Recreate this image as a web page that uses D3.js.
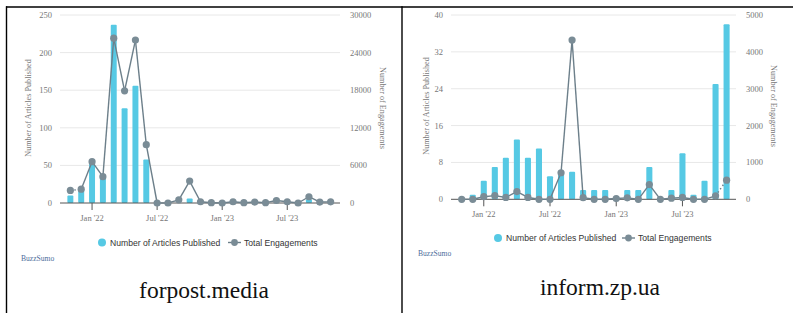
<!DOCTYPE html>
<html>
<head>
<meta charset="utf-8">
<script src="https://cdn.jsdelivr.net/npm/d3@7"></script>
<style>
    body { margin: 0; background: #fff; }
    svg { display: block; }
    .tick-label { font-family: "Liberation Serif", "Times New Roman", serif; font-size: 8.5px; fill: #777; }
    .axis-title { font-family: "Liberation Serif", "Times New Roman", serif; font-size: 8.2px; fill: #777; }
    .legend-text { font-family: "Liberation Sans", Arial, sans-serif; font-size: 8.6px; fill: #333; }
    .brand { font-family: "Liberation Serif", "Times New Roman", serif; font-size: 7.6px; fill: #4d6e9c; }
    .site { font-family: "Liberation Serif", "Times New Roman", serif; font-size: 23.5px; fill: #111; }
</style>
</head>
<body>
<svg id="graph" width="793" height="313"></svg>
<script>
// months Nov 2021 .. Nov 2023
const months = ['2021-11', '2021-12', '2022-01', '2022-02', '2022-03', '2022-04', '2022-05',
    '2022-06', '2022-07', '2022-08', '2022-09', '2022-10', '2022-11', '2022-12', '2023-01',
    '2023-02', '2023-03', '2023-04', '2023-05', '2023-06', '2023-07', '2023-08', '2023-09',
    '2023-10', '2023-11'];
const xTickMonths = ['2022-01', '2022-07', '2023-01', '2023-07'];
const xTickLabels = ["Jan '22", "Jul '22", "Jan '23", "Jul '23"];

const forpostArticles = [10, 19, 55, 36, 237, 126, 156, 58, 0, 0, 0, 6, 0, 0, 0, 0, 0, 0, 0, 0, 0, 0, 5, 0, 0];
const forpostEngagements = [2000, 2200, 6600, 4200, 26300, 17900, 26000, 9300, 0, 0, 500, 3500, 200, 50,
    0, 200, 50, 150, 50, 400, 200, 0, 1000, 150, 180];
const forpostLeftTicks = [0, 50, 100, 150, 200, 250];
const forpostRightTicks = [0, 6000, 12000, 18000, 24000, 30000];

const informArticles = [0, 1, 4, 7, 9, 13, 9, 11, 5, 6, 6, 2, 2, 2, 0, 2, 2, 7, 0, 2, 10, 1, 4, 25, 38];
const informEngagements = [0, 0, 70, 100, 50, 210, 50, 0, 0, 720, 4320, 45, 0, 0, 20, 40, 0, 400,
    0, 30, 50, 0, 0, 95, 520];
const informLeftTicks = [0, 8, 16, 24, 32, 40];
const informRightTicks = [0, 1000, 2000, 3000, 4000, 5000];

const legendLabels = ['Number of Articles Published', 'Total Engagements'];
const axisTitles = ['Number of Articles Published', 'Number of Engagements'];

const barColor = '#56c9e4';
const lineColor = '#6c7f8a';
const markerColor = '#7a8c96';

const svg = d3.select('#graph');

const drawPanel = p => {
    const g = svg.append('g');
    const rows = months.map((m, i) => ({ month: m, articles: p.articles[i], engagements: p.engagements[i], i: i }));

    const xScale = d3.scaleBand()
                     .domain(months)
                     .range([p.bandLeft, p.bandRight])
                     .padding(0.45);
    const cx = m => xScale(m) + xScale.bandwidth() / 2;

    const yLeft = d3.scaleLinear()
                    .domain([0, d3.max(p.leftTicks)])
                    .range([p.bottom, p.top]);
    const yRight = d3.scaleLinear()
                     .domain([0, d3.max(p.rightTicks)])
                     .range([p.bottom, p.top]);

    // grid
    g.selectAll('.grid').data(p.leftTicks.slice(1)).enter().append('line')
        .attr('x1', p.gridLeft).attr('x2', p.gridRight)
        .attr('y1', d => yLeft(d)).attr('y2', d => yLeft(d))
        .attr('stroke', '#e8e8e8').attr('stroke-width', 1);

    g.selectAll('.left-label').data(p.leftTicks).enter().append('text')
        .attr('class', 'tick-label')
        .attr('x', p.gridLeft - 8)
        .attr('y', d => yLeft(d))
        .attr('dy', '0.35em')
        .attr('text-anchor', 'end')
        .text(d => d);

    g.selectAll('.right-label').data(p.rightTicks).enter().append('text')
        .attr('class', 'tick-label')
        .attr('x', p.gridRight + 10)
        .attr('y', d => yRight(d))
        .attr('dy', '0.35em')
        .text(d => d);

    g.append('text')
        .attr('class', 'axis-title')
        .attr('transform', `translate(${p.leftTitleX}, ${p.titleY}) rotate(-90)`)
        .attr('text-anchor', 'middle')
        .attr('dy', '0.35em')
        .text(axisTitles[0]);
    g.append('text')
        .attr('class', 'axis-title')
        .attr('transform', `translate(${p.rightTitleX}, ${p.titleY}) rotate(90)`)
        .attr('text-anchor', 'middle')
        .attr('dy', '0.35em')
        .text(axisTitles[1]);

    // bars
    g.selectAll('rect').data(rows.filter(d => d.articles > 0)).enter().append('rect')
        .attr('x', d => xScale(d.month))
        .attr('width', xScale.bandwidth())
        .attr('y', d => yLeft(d.articles))
        .attr('height', d => p.bottom - yLeft(d.articles))
        .attr('rx', 1)
        .attr('fill', barColor);

    // x axis
    g.append('line')
        .attr('x1', p.gridLeft).attr('x2', p.gridRight)
        .attr('y1', p.bottom).attr('y2', p.bottom)
        .attr('stroke', '#555').attr('stroke-width', 1);
    g.selectAll('.x-tick').data(xTickMonths).enter().append('line')
        .attr('x1', d => cx(d)).attr('x2', d => cx(d))
        .attr('y1', p.bottom).attr('y2', p.bottom + 7)
        .attr('stroke', '#555').attr('stroke-width', 1);
    g.selectAll('.x-label').data(xTickMonths).enter().append('text')
        .attr('class', 'tick-label')
        .attr('x', d => cx(d))
        .attr('y', p.xLabelY)
        .attr('text-anchor', 'middle')
        .text((d, i) => xTickLabels[i]);

    // engagement line, partial months dotted
    const line = d3.line().x(d => cx(d.month)).y(d => yRight(d.engagements));
    const segments = d3.pairs(rows);
    g.selectAll('.seg').data(segments).enter().append('path')
        .attr('d', d => line(d))
        .attr('fill', 'none')
        .attr('stroke', lineColor)
        .attr('stroke-width', 1.4)
        .attr('stroke-dasharray', d => p.dotted.includes(d[0].i) ? '1.5,2.5' : null);

    g.selectAll('.dot').data(rows).enter().append('circle')
        .attr('cx', d => cx(d.month))
        .attr('cy', d => yRight(d.engagements))
        .attr('r', 3.6)
        .attr('fill', markerColor);

    // legend
    g.append('circle')
        .attr('cx', p.legendX).attr('cy', p.legendY).attr('r', 4)
        .attr('fill', barColor);
    g.append('text')
        .attr('class', 'legend-text')
        .attr('x', p.legendX + 8).attr('y', p.legendY)
        .attr('dy', '0.35em')
        .text(legendLabels[0]);
    g.append('line')
        .attr('x1', p.legend2X).attr('x2', p.legend2X + 13)
        .attr('y1', p.legendY).attr('y2', p.legendY)
        .attr('stroke', lineColor).attr('stroke-width', 1.4);
    g.append('circle')
        .attr('cx', p.legend2X + 6.5).attr('cy', p.legendY).attr('r', 3.4)
        .attr('fill', markerColor);
    g.append('text')
        .attr('class', 'legend-text')
        .attr('x', p.legend2X + 16).attr('y', p.legendY)
        .attr('dy', '0.35em')
        .text(legendLabels[1]);

    g.append('text')
        .attr('class', 'brand')
        .attr('x', p.brandX).attr('y', p.brandY)
        .text('BuzzSumo');

    g.append('text')
        .attr('class', 'site')
        .attr('x', p.siteX).attr('y', p.siteY)
        .attr('text-anchor', 'middle')
        .text(p.site);
};

// table borders
svg.append('line').attr('x1', 6).attr('x2', 793).attr('y1', 7).attr('y2', 7)
   .attr('stroke', '#000').attr('stroke-width', 1.4);
svg.append('line').attr('x1', 6.5).attr('x2', 6.5).attr('y1', 6.3).attr('y2', 313)
   .attr('stroke', '#000').attr('stroke-width', 1.4);
svg.append('line').attr('x1', 402).attr('x2', 402).attr('y1', 6.3).attr('y2', 313)
   .attr('stroke', '#000').attr('stroke-width', 1.4);

drawPanel({
    site: 'forpost.media',
    articles: forpostArticles, engagements: forpostEngagements,
    leftTicks: forpostLeftTicks, rightTicks: forpostRightTicks,
    gridLeft: 60, gridRight: 340, bandLeft: 62.5, bandRight: 338.5,
    top: 15, bottom: 203, xLabelY: 221,
    leftTitleX: 28, rightTitleX: 383, titleY: 108,
    legendX: 102, legend2X: 228, legendY: 242.5,
    brandX: 21, brandY: 261, siteX: 204, siteY: 298,
    dotted: [0]
});

drawPanel({
    site: 'inform.zp.ua',
    articles: informArticles, engagements: informEngagements,
    leftTicks: informLeftTicks, rightTicks: informRightTicks,
    gridLeft: 451, gridRight: 736, bandLeft: 453.7, bandRight: 734.6,
    top: 15, bottom: 199.3, xLabelY: 217,
    leftTitleX: 426, rightTitleX: 774, titleY: 106,
    legendX: 498, legend2X: 622, legendY: 238,
    brandX: 418, brandY: 256, siteX: 600, siteY: 295,
    dotted: [23]
});
</script>
</body>
</html>
